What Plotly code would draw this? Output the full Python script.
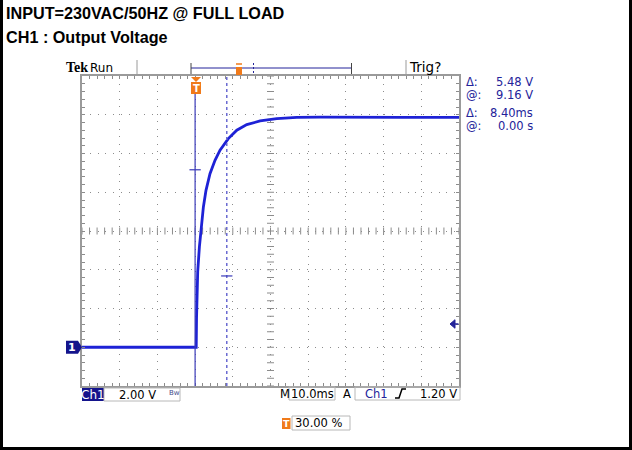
import numpy as np
import plotly.graph_objects as go

# scope settings (from the readouts)
time_per_div = 10.0      # ms/div
volt_per_div = 2.0       # V/div
trig_level = 1.20        # V
t_range = [-30.0, 70.0]  # trigger at 30 %
v_range = [-2.0, 14.0]

# cursors: time cursors (ms) and voltage cursors (V)
cursor_t = [0.0, 8.40]
cursor_v = [9.16, 3.68]

# CH1 : output voltage
t_ms = [-30.0, -20.0, -10.0, 0.0, 0.30, 0.38, 0.45, 0.69, 1.14, 1.51, 2.20, 2.89,
        3.95, 5.28, 6.61, 8.81, 11.06, 13.71, 17.24, 21.67, 26.98, 33.2, 45.0,
        55.0, 70.0]
v_ch1 = [0.0, 0.0, 0.0, 0.0, 0.0, 1.5, 2.94, 3.89, 5.18, 5.95, 7.24, 8.10,
         8.96, 9.65, 10.17, 10.77, 11.20, 11.49, 11.68, 11.80, 11.86, 11.88, 11.86,
         11.86, 11.86]

# plot area in pixels
L, R, T, B = 82, 459, 76, 386
PW, PH = R - L, B - T


def px(x):
    return (x - L) / PW


def py(y):
    return (B - y) / PH


BLUE = "#1e22d6"
DBLUE = "#23239a"
CURS = "#3a3ab8"
GRID = "#8c8c8c"
ORANGE = "#f07a1a"
MONO = "DejaVu Sans"

fig = go.Figure()

# graticule crosses on the centre lines
xc = np.arange(t_range[0], t_range[1] + 0.01, time_per_div / 5)
yc = np.arange(v_range[0], v_range[1] + 0.01, volt_per_div / 5)
tc = (t_range[0] + t_range[1]) / 2
vc = (v_range[0] + v_range[1]) / 2
fig.add_trace(go.Scatter(x=xc, y=[vc] * len(xc), mode="markers", hoverinfo="skip",
                         marker=dict(symbol="line-ns", size=5, line=dict(width=1, color=GRID))))
fig.add_trace(go.Scatter(x=[tc] * len(yc), y=yc, mode="markers", hoverinfo="skip",
                         marker=dict(symbol="line-ew", size=5, line=dict(width=1, color=GRID))))

# the waveform
fig.add_trace(go.Scatter(x=t_ms, y=v_ch1, mode="lines", line=dict(color=BLUE, width=2.8),
                         name="CH1"))

shapes = []
# outer frame
shapes.append(dict(type="line", xref="paper", yref="paper", x0=px(1.5), x1=px(1.5), y0=py(0), y1=py(450),
                   line=dict(color="black", width=3)))
shapes.append(dict(type="line", xref="paper", yref="paper", x0=px(630.5), x1=px(630.5), y0=py(0), y1=py(450),
                   line=dict(color="black", width=3)))
shapes.append(dict(type="line", xref="paper", yref="paper", x0=px(0), x1=px(632), y0=py(448.5), y1=py(448.5),
                   line=dict(color="black", width=3)))

# top status line: separators and record bar
for sx in [137, 406]:
    shapes.append(dict(type="line", xref="paper", yref="paper", x0=px(sx), x1=px(sx), y0=py(60), y1=py(75),
                       line=dict(color="#9a9a9a", width=1)))
shapes.append(dict(type="line", xref="paper", yref="paper", x0=px(191), x1=px(351.5), y0=py(68), y1=py(68),
                   line=dict(color=DBLUE, width=1)))
for bx in [191, 351.5]:
    shapes.append(dict(type="line", xref="paper", yref="paper", x0=px(bx), x1=px(bx), y0=py(63), y1=py(74),
                       line=dict(color="#444", width=1)))
shapes.append(dict(type="line", xref="paper", yref="paper", x0=px(253.5), x1=px(253.5), y0=py(63), y1=py(74),
                   line=dict(color=DBLUE, width=1, dash="2px,2px")))
shapes.append(dict(type="rect", xref="paper", yref="paper", x0=px(236), x1=px(242), y0=py(67), y1=py(75),
                   fillcolor=ORANGE, line=dict(width=0)))
shapes.append(dict(type="line", xref="paper", yref="paper", x0=px(236), x1=px(242), y0=py(64), y1=py(64),
                   line=dict(color=ORANGE, width=1.5)))

# time cursors
shapes.append(dict(type="line", xref="x", yref="paper", x0=cursor_t[0], x1=cursor_t[0], y0=0, y1=py(94),
                   line=dict(color=CURS, width=1.2)))
shapes.append(dict(type="line", xref="x", yref="paper", x0=cursor_t[1], x1=cursor_t[1], y0=0, y1=1,
                   line=dict(color="#6a6ad2", width=1.5, dash="3px,3px")))
# voltage cursor marks
for ct, cv in zip(cursor_t, cursor_v):
    shapes.append(dict(type="line", xref="x", yref="y", x0=ct - 1.5, x1=ct + 1.5, y0=cv, y1=cv,
                       line=dict(color=CURS, width=1.2)))

# trigger position marker on top of graticule
shapes.append(dict(type="path", xref="paper", yref="paper",
                   path=f"M {px(191)} {py(77)} L {px(201)} {py(77)} L {px(196)} {py(82)} Z",
                   fillcolor=ORANGE, line=dict(width=0)))
shapes.append(dict(type="rect", xref="paper", yref="paper", x0=px(191), x1=px(201), y0=py(82), y1=py(94),
                   fillcolor=ORANGE, line=dict(width=0)))

# ground marker "1" (at 0 V) and trigger level arrow
gx0, gx1, gx2 = px(66), px(78), px(82)
shapes.append(dict(type="path", xref="paper", yref="y",
                   path=f"M {gx0} {-0.34} L {gx1} {-0.34} L {gx2} 0 L {gx1} 0.34 L {gx0} 0.34 Z",
                   fillcolor="#14148c", line=dict(width=0)))
shapes.append(dict(type="path", xref="paper", yref="y",
                   path=f"M {px(450)} {trig_level} L {px(455)} {trig_level + 0.22} L {px(455)} {trig_level - 0.22} Z",
                   fillcolor=DBLUE, line=dict(color=DBLUE, width=1)))
shapes.append(dict(type="line", xref="paper", yref="y", x0=px(454), x1=px(458.5), y0=trig_level, y1=trig_level,
                   line=dict(color=DBLUE, width=1.5)))

# bottom readout boxes
shapes.append(dict(type="rect", xref="paper", yref="paper", x0=px(82), x1=px(104), y0=py(388), y1=py(401),
                   fillcolor="#14148c", line=dict(width=0)))
for x0, x1, y0, y1 in [(104, 180, 388, 401), (289, 335, 387, 400), (355, 460, 387, 400), (292, 350, 416, 430)]:
    shapes.append(dict(type="rect", xref="paper", yref="paper", x0=px(x0), x1=px(x1), y0=py(y0), y1=py(y1),
                       line=dict(color="#b8b8b8", width=1)))
shapes.append(dict(type="rect", xref="paper", yref="paper", x0=px(282), x1=px(290.5), y0=py(418), y1=py(429),
                   fillcolor=ORANGE, line=dict(width=0)))
# rising edge symbol
shapes.append(dict(type="path", xref="paper", yref="paper",
                   path=f"M {px(395)} {py(398)} L {px(399)} {py(398)} L {px(402)} {py(389)} L {px(406)} {py(389)}",
                   line=dict(color="black", width=1.5)))

fig.update_layout(shapes=shapes)


def txt(s, x, y, size=11.5, color="black", family=MONO, xanchor="left", **kw):
    return dict(text=s, x=px(x), y=py(y), xref="paper", yref="paper", xanchor=xanchor, yanchor="middle",
                showarrow=False, font=dict(size=size, color=color, family=family), **kw)


TITLE_FONT = "Liberation Sans, Arial"
annotations = [
    txt("<b>INPUT=230VAC/50HZ @ FULL LOAD</b>", 4, 13.5, size=16.2, family=TITLE_FONT),
    txt("<b>CH1 : Output Voltage</b>", 4, 37, size=16.2, family=TITLE_FONT),
    txt("<b>Tek</b>", 64, 68, size=14, family="Liberation Serif"),
    txt("Run", 88, 68, size=12, family=MONO),
    txt("Trig?", 407, 67, size=13.5, family=MONO),
    # cursor readouts
    txt("Δ:", 464, 82, color=DBLUE),
    txt("5.48 V", 535, 82, color=DBLUE, xanchor="right"),
    txt("@:", 464, 95, color=DBLUE),
    txt("9.16 V", 535, 95, color=DBLUE, xanchor="right"),
    txt("Δ:", 464, 113, color=DBLUE),
    txt("8.40ms", 535, 113, color=DBLUE, xanchor="right"),
    txt("@:", 464, 126, color=DBLUE),
    txt("0.00 s", 535, 126, color=DBLUE, xanchor="right"),
    # markers
    txt("<b>T</b>", 196, 88.5, size=10, color="white", xanchor="center"),
    dict(text="<b>1</b>", x=px(72), y=0, xref="paper", yref="y", xanchor="center", yanchor="middle",
         showarrow=False, font=dict(size=11, color="white", family=MONO)),
    # bottom readouts
    txt("Ch1", 93, 395, size=12, color="white", xanchor="center"),
    txt("2.00 V", 137.5, 395, xanchor="center"),
    txt("Bw", 174.5, 393, size=7, color="#444a8a", xanchor="center"),
    txt("M", 284.5, 393.5, xanchor="center"),
    txt("10.0ms", 312, 393.5, xanchor="center"),
    txt("A", 346.5, 393.5, xanchor="center"),
    txt("Ch1", 376, 393.5, color=DBLUE, xanchor="center"),
    txt("1.20 V", 459, 393.5, xanchor="right"),
    txt("<b>T</b>", 286.2, 423.5, size=9.5, color="white", xanchor="center"),
    txt("30.00 %", 293, 423, xanchor="left"),
]
fig.update_layout(annotations=annotations)

fig.update_layout(
    width=632, height=450,
    margin=dict(l=L, r=632 - R, t=T, b=450 - B),
    paper_bgcolor="white", plot_bgcolor="white",
    showlegend=False, hovermode=False,
    xaxis=dict(range=t_range, tick0=t_range[0], dtick=time_per_div, showticklabels=False,
               showgrid=True, gridcolor=GRID, griddash="1px,6.5px", gridwidth=1, zeroline=False,
               showline=True, linecolor="#9a9a9a", linewidth=2, mirror="allticks",
               ticks="inside", ticklen=3, tickcolor=GRID,
               minor=dict(dtick=time_per_div / 5, ticks="inside", ticklen=3, tickcolor=GRID, showgrid=False)),
    yaxis=dict(range=v_range, tick0=v_range[0], dtick=volt_per_div, showticklabels=False,
               showgrid=True, gridcolor=GRID, griddash="1px,6.75px", gridwidth=1, zeroline=False,
               showline=True, linecolor="#9a9a9a", linewidth=2, mirror="allticks",
               ticks="inside", ticklen=3, tickcolor=GRID,
               minor=dict(dtick=volt_per_div / 5, ticks="inside", ticklen=3, tickcolor=GRID, showgrid=False)),
)

# the page has a default 8px body margin; drop it so the figure sits at (0, 0)
fig.write_html("out.html", config={"displayModeBar": False},
               post_script="document.body.style.margin='0';")
